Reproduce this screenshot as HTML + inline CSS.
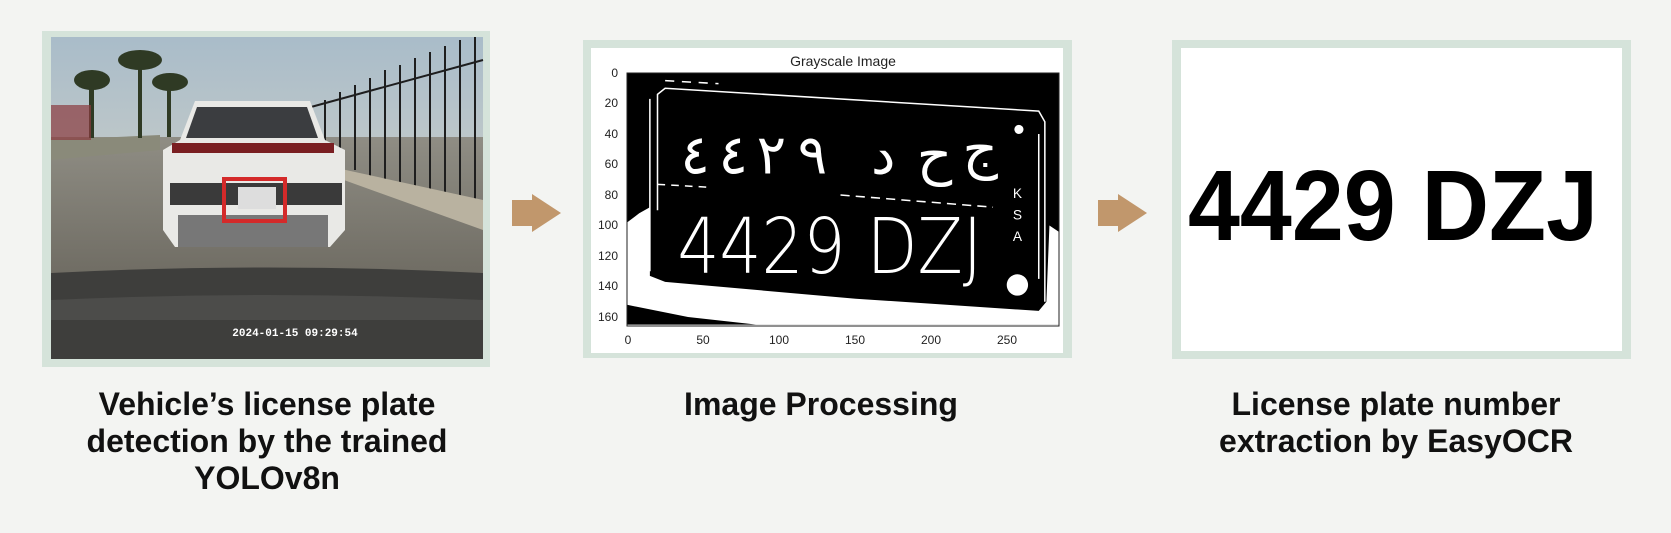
<!DOCTYPE html>
<html><head><meta charset="utf-8"><style>
html,body{margin:0;padding:0;background:#f3f4f2;}
body{width:1671px;height:533px;position:relative;overflow:hidden;font-family:"Liberation Sans",sans-serif;}
.cap{position:absolute;font-weight:bold;font-size:32px;line-height:37px;text-align:center;color:#111;width:500px;}
</style></head><body>
<svg width="1671" height="533" style="position:absolute;left:0;top:0">
  <defs>
    <linearGradient id="sky" x1="0" y1="0" x2="0" y2="1"><stop offset="0" stop-color="#a9bcc9"/><stop offset="1" stop-color="#e6ddc9"/></linearGradient>
    <linearGradient id="road" x1="0" y1="0" x2="0" y2="1"><stop offset="0" stop-color="#8f8d84"/><stop offset="1" stop-color="#6f6c63"/></linearGradient>
  </defs>
  <g>
    <rect x="42" y="31" width="448" height="336" fill="#d5e3da"/>
    <rect x="51" y="37" width="432" height="322" fill="url(#sky)"/>
    <rect x="51" y="137" width="432" height="140" fill="url(#road)"/>
    <polygon points="51,140 160,135 160,150 51,160" fill="#8a8a7a"/>
    <g fill="#2f3a24"><ellipse cx="92" cy="80" rx="18" ry="10"/><rect x="89" y="80" width="5" height="58"/>
    <ellipse cx="140" cy="60" rx="22" ry="10"/><rect x="138" y="60" width="4" height="78"/>
    <ellipse cx="170" cy="82" rx="18" ry="9"/><rect x="167" y="82" width="4" height="55"/></g>
    <rect x="51" y="105" width="40" height="35" fill="#8a3b3f" opacity="0.7"/>
    <g stroke="#1e1e1e" stroke-width="2">
      <line x1="310" y1="110" x2="310" y2="155"/><line x1="325" y1="100" x2="325" y2="160"/><line x1="340" y1="92" x2="340" y2="165"/>
      <line x1="355" y1="85" x2="355" y2="170"/><line x1="370" y1="78" x2="370" y2="176"/><line x1="385" y1="70" x2="385" y2="180"/>
      <line x1="400" y1="65" x2="400" y2="184"/><line x1="415" y1="58" x2="415" y2="188"/><line x1="430" y1="52" x2="430" y2="192"/>
      <line x1="445" y1="46" x2="445" y2="196"/><line x1="460" y1="40" x2="460" y2="200"/><line x1="475" y1="37" x2="475" y2="205"/>
      <line x1="300" y1="110" x2="483" y2="60"/>
    </g>
    <polygon points="300,160 483,200 483,230 330,175" fill="#b9b2a0"/>
    <g>
      <path d="M195,101 L310,101 L325,140 L345,150 L345,230 L330,247 L175,247 L163,230 L163,150 L180,140 Z" fill="#e9e9e6"/>
      <path d="M197,107 L307,107 L318,138 L186,138 Z" fill="#3b3d40"/>
      <rect x="172" y="143" width="162" height="10" fill="#7a1f22"/>
      <rect x="170" y="183" width="172" height="22" fill="#3a3a3a"/>
      <rect x="238" y="187" width="38" height="22" fill="#ddd"/>
      <rect x="178" y="215" width="150" height="32" fill="#777"/>
    </g>
    <rect x="224" y="179" width="61" height="42" fill="none" stroke="#d42a2a" stroke-width="4"/>
    <path d="M51,273 Q267,262 483,273 L483,359 L51,359 Z" fill="#3e3e3c"/>
    <path d="M51,300 Q267,290 483,300 L483,320 L51,320 Z" fill="#4c4c4a"/>
    <text x="295" y="336" font-family="Liberation Mono,monospace" font-size="11" font-weight="bold" fill="#fff" text-anchor="middle">2024-01-15 09:29:54</text>
  </g>
  <polygon points="512,200 532,200 532,194 561,213 532,232 532,226 512,226" fill="#c1976c"/>
  <polygon points="1098,200 1118,200 1118,194 1147,213 1118,232 1118,226 1098,226" fill="#c1976c"/>
  <g>
    <rect x="583" y="40" width="489" height="318" fill="#d5e3da"/>
    <rect x="591" y="48" width="472" height="305" fill="#fff"/>
    <text x="843" y="66" font-size="14" fill="#222" text-anchor="middle">Grayscale Image</text>
    <g transform="translate(627,73) scale(1.525)">
      <rect x="0" y="0" width="283" height="165" fill="#000"/>
      <polygon points="0,98 8,92 15,88 15,133 25,137 150,148 270,156 275,150 277,100 283,104 283,165 85,165 40,160 0,152" fill="#fff"/>
      <g fill="none" stroke="#fff" stroke-width="1">
        <polyline points="20,90 20,14 25,10 270,25 274,32 274,150"/>
        <line x1="15" y1="17" x2="15" y2="130"/>
        <polyline points="20,73 55,75" stroke-dasharray="5,4"/>
        <polyline points="140,80 240,88" stroke-dasharray="6,4"/>
        <polyline points="25,5 60,7" stroke-dasharray="6,5"/>
        <line x1="270" y1="40" x2="270" y2="135"/>
      </g>
      <g font-size="36" fill="#fff" font-family="DejaVu Sans,sans-serif">
        <text x="35" y="66">٤</text><text x="60" y="66">٤</text><text x="85" y="66">٢</text><text x="112" y="66">٩</text>
        <text x="160" y="66">د</text><text x="190" y="66">ح</text><text x="220" y="62">ج</text>
      </g>
      <text x="33" y="131" font-size="50" fill="#fff" font-family="DejaVu Sans,sans-serif" font-weight="200" textLength="200" lengthAdjust="spacingAndGlyphs">4429 DZJ</text>
      <text x="253" y="82" font-size="9" fill="#fff">K</text><text x="253" y="96" font-size="9" fill="#fff">S</text><text x="253" y="110" font-size="9" fill="#fff">A</text>
      <circle cx="256" cy="139" r="7" fill="#fff"/>
      <circle cx="257" cy="37" r="3" fill="#fff"/>
    </g>
    <rect x="627" y="73" width="432" height="253" fill="none" stroke="#222" stroke-width="1"/>
    <g font-size="12" fill="#222" text-anchor="end">
      <text x="618" y="77">0</text><text x="618" y="107">20</text><text x="618" y="138">40</text><text x="618" y="168">60</text>
      <text x="618" y="199">80</text><text x="618" y="229">100</text><text x="618" y="260">120</text><text x="618" y="290">140</text><text x="618" y="321">160</text>
    </g>
    <g font-size="12" fill="#222" text-anchor="middle">
      <text x="628" y="344">0</text><text x="703" y="344">50</text><text x="779" y="344">100</text><text x="855" y="344">150</text><text x="931" y="344">200</text><text x="1007" y="344">250</text>
    </g>
  </g>
  <g>
    <rect x="1172" y="40" width="459" height="319" fill="#d5e3da"/>
    <rect x="1181" y="48" width="441" height="303" fill="#fff"/>
    <text x="1393" y="240" font-size="100" font-weight="bold" fill="#000" text-anchor="middle" textLength="410" lengthAdjust="spacingAndGlyphs">4429 DZJ</text>
  </g>
</svg>
<div class="cap" style="left:17px;top:386px">Vehicle’s license plate<br>detection by the trained<br>YOLOv8n</div>
<div class="cap" style="left:571px;top:386px">Image Processing</div>
<div class="cap" style="left:1146px;top:386px">License plate number<br>extraction by EasyOCR</div>
</body></html>
